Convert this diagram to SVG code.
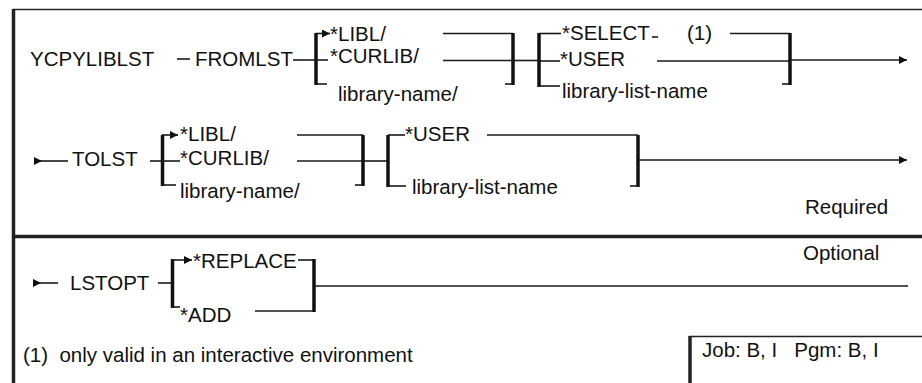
<svg xmlns="http://www.w3.org/2000/svg" width="922" height="383" viewBox="0 0 922 383">
<style>
text{font-family:"Liberation Sans",Arial,sans-serif;font-size:20.5px;fill:#111}
.ln{stroke:#1a1a1a;stroke-width:1.6;fill:none}
.br{stroke:#111;stroke-width:3.5;fill:none}
.fr{stroke:#222;fill:none}
</style>
<defs>
<marker id="ah" viewBox="0 0 10 10" refX="10" refY="5" markerWidth="8" markerHeight="8" markerUnits="userSpaceOnUse" orient="auto"><path d="M0 0 L10 5 L0 10 Z" fill="#111"/></marker>
</defs>
<rect width="922" height="383" fill="#fff"/>
<g id="frame">
<path class="fr" stroke-width="1.6" d="M13 9.5 H922"/>
<path class="fr" stroke-width="3.5" d="M13.5 9 V383"/>
<path class="fr" stroke-width="3.5" d="M13 236.5 H922"/>
</g>
<g id="connectors">
<!-- row 1 -->
<path class="ln" d="M177 59 H190"/>
<path class="ln" d="M293 60 H316"/>
<path class="br" d="M316 33 V85"/>
<path class="ln" d="M316 33.5 H330" marker-end="url(#ah)"/>
<path class="ln" d="M316 60 H328"/>
<path class="ln" d="M316 84 H327"/>
<path class="ln" d="M443 33.5 H513"/>
<path class="ln" d="M443 60.5 H513"/>
<path class="br" d="M513 33 V85"/>
<path class="ln" d="M505 84 H513"/>
<path class="ln" d="M513 60.5 H539"/>
<path class="br" d="M539 33 V87"/>
<path class="ln" d="M539 33.5 H561"/>
<path class="ln" d="M539 61 H560"/>
<path class="ln" d="M539 86 H560"/>
<path class="ln" d="M652 37 H658"/>
<path class="ln" d="M730 33.5 H790"/>
<path class="ln" d="M657 61 H790"/>
<path class="br" d="M790 33 V85"/>
<path class="ln" d="M782 84 H790"/>
<path class="ln" d="M790 60 H907" marker-end="url(#ah)"/>
<!-- row 2 -->
<path class="ln" d="M34 161 H42" marker-end="url(#ah)"/>
<path class="ln" d="M42 161 H68"/>
<path class="ln" d="M150 161 H162"/>
<path class="br" d="M162.5 135 V186"/>
<path class="ln" d="M162 135 H178" marker-end="url(#ah)"/>
<path class="ln" d="M162 161 H180"/>
<path class="ln" d="M162 185 H176"/>
<path class="ln" d="M297 135 H363"/>
<path class="ln" d="M297 161 H363"/>
<path class="br" d="M363 135 V186"/>
<path class="ln" d="M355 185 H363"/>
<path class="ln" d="M363 161 H388"/>
<path class="br" d="M388 135 V187"/>
<path class="ln" d="M388 135 H405"/>
<path class="ln" d="M388 186 H406"/>
<path class="ln" d="M487 135 H638"/>
<path class="br" d="M638 135 V187"/>
<path class="ln" d="M630 186 H638"/>
<path class="ln" d="M638 160 H907" marker-end="url(#ah)"/>
<!-- row 3 -->
<path class="ln" d="M33 283 H41" marker-end="url(#ah)"/>
<path class="ln" d="M41 283 H58"/>
<path class="ln" d="M158 283 H172"/>
<path class="br" d="M172.5 259 V308"/>
<path class="ln" d="M172 260 H192" marker-end="url(#ah)"/>
<path class="ln" d="M172 307 H180"/>
<path class="ln" d="M298 260 H314"/>
<path class="ln" d="M255 311 H314"/>
<path class="br" d="M314 259 V312"/>
<path class="ln" d="M314 286 H908"/>
</g>
<g id="n-ycpyliblst"><text x="30" y="66">YCPYLIBLST</text></g>
<g id="n-fromlst"><text x="195" y="66">FROMLST</text></g>
<g id="n-from-libl"><text x="330" y="41">*LIBL/</text></g>
<g id="n-from-curlib"><text x="330" y="63">*CURLIB/</text></g>
<g id="n-from-libname"><text x="338" y="101">library-name/</text></g>
<g id="n-from-select"><text x="562" y="40">*SELECT</text><text x="687" y="40">(1)</text></g>
<g id="n-from-user"><text x="560" y="66">*USER</text></g>
<g id="n-from-liblist"><text x="562" y="98">library-list-name</text></g>
<g id="n-tolst"><text x="72" y="166">TOLST</text></g>
<g id="n-to-libl"><text x="180" y="141">*LIBL/</text></g>
<g id="n-to-curlib"><text x="180" y="165">*CURLIB/</text></g>
<g id="n-to-libname"><text x="180" y="198">library-name/</text></g>
<g id="n-to-user"><text x="405" y="141">*USER</text></g>
<g id="n-to-liblist"><text x="412" y="194">library-list-name</text></g>
<g id="n-required"><text x="805" y="214">Required</text></g>
<g id="n-lstopt"><text x="70" y="290">LSTOPT</text></g>
<g id="n-replace"><text x="193" y="268">*REPLACE</text></g>
<g id="n-add"><text x="180" y="322">*ADD</text></g>
<g id="n-optional"><text x="803" y="260">Optional</text></g>
<g id="n-footnote"><text x="23" y="362" xml:space="preserve">(1)  only valid in an interactive environment</text></g>
<g id="n-jobbox">
<path class="fr" stroke-width="1.6" d="M689 336.5 H922"/>
<path class="fr" stroke-width="3.5" d="M690 336 V383"/>
<text x="702" y="357" xml:space="preserve">Job: B, I   Pgm: B, I</text>
</g>
</svg>
